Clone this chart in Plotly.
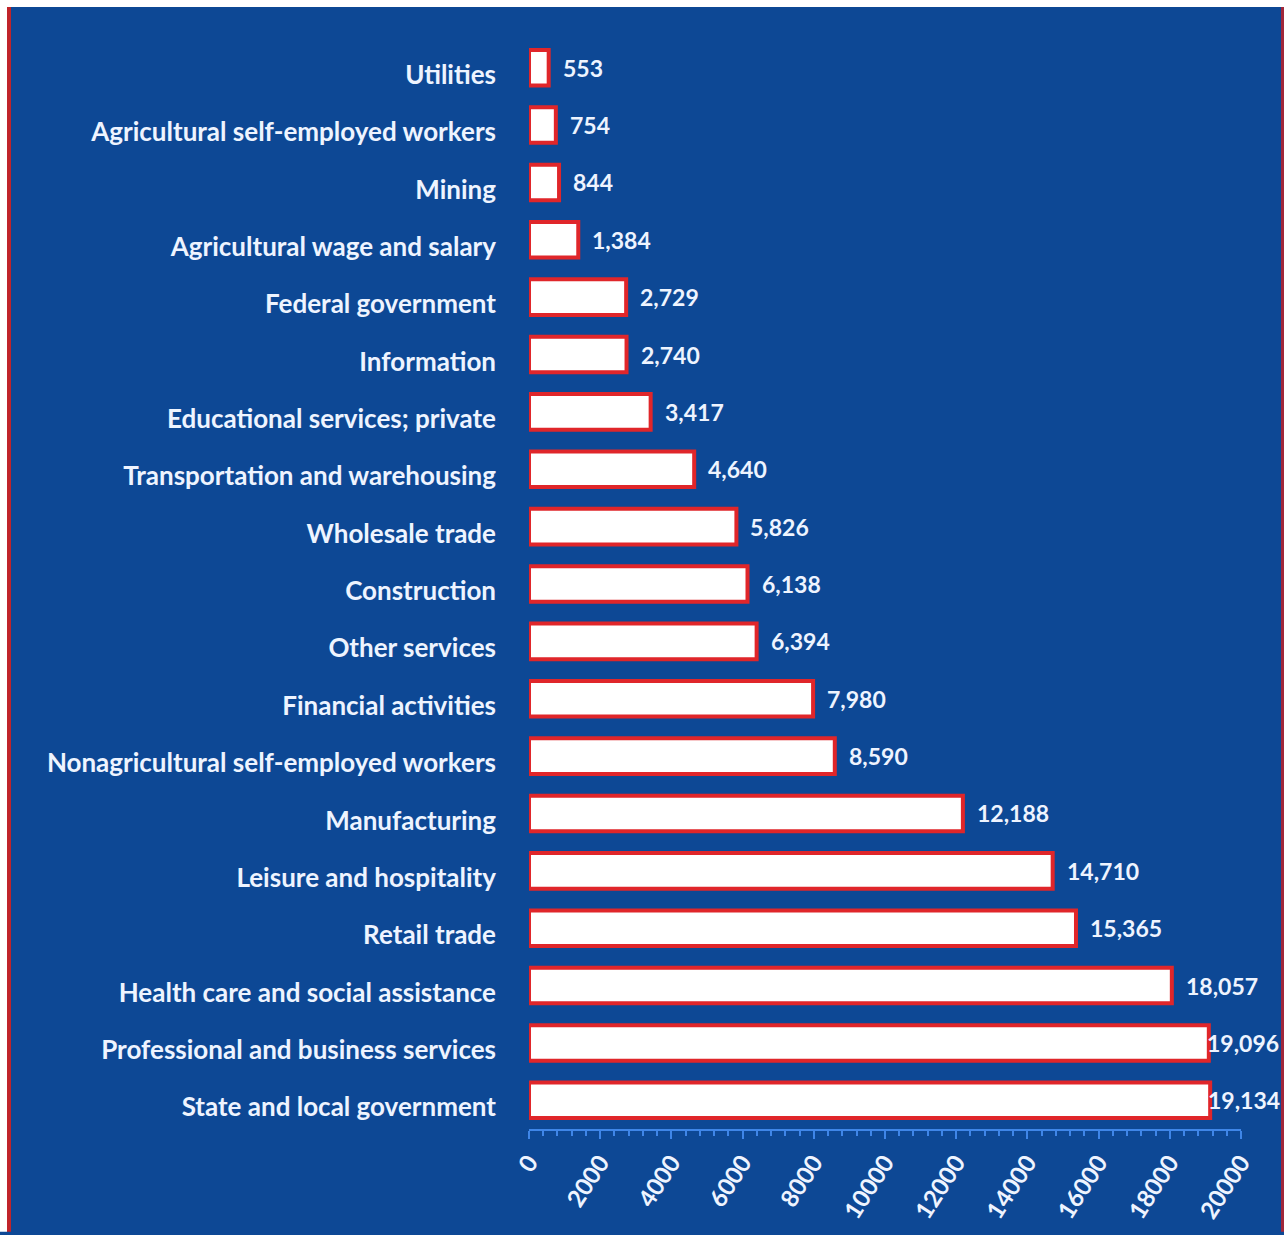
import plotly.graph_objects as go

# Employment by industry (thousands of jobs)
industries = [
    "Utilities",
    "Agricultural self-employed workers",
    "Mining",
    "Agricultural wage and salary",
    "Federal government",
    "Information",
    "Educational services; private",
    "Transportation and warehousing",
    "Wholesale trade",
    "Construction",
    "Other services",
    "Financial activities",
    "Nonagricultural self-employed workers",
    "Manufacturing",
    "Leisure and hospitality",
    "Retail trade",
    "Health care and social assistance",
    "Professional and business services",
    "State and local government",
]
jobs = [553, 754, 844, 1384, 2729, 2740, 3417, 4640, 5826, 6138, 6394,
        7980, 8590, 12188, 14710, 15365, 18057, 19096, 19134]
x_ticks = [0, 2000, 4000, 6000, 8000, 10000, 12000, 14000, 16000, 18000, 20000]

BG = "#0d4895"
TEXT = "#eef4ff"
RED = "#e0262a"
AXIS = "#3f86e8"
FONT = "Lato"

W, H = 1284, 1235
ML, MR, MT, MB = 529, 43, 39, 103
PW, PH = W - ML - MR, H - MT - MB


def px_x(p):
    return (p - ML) / PW


def px_y(p):
    return (H - MB - p) / PH


fig = go.Figure(go.Bar(
    x=jobs,
    y=industries,
    orientation="h",
    marker=dict(color="white", line=dict(color=RED, width=4)),
    hoverinfo="x+y",
))

# value labels at the end of each bar
for name, v in zip(industries, jobs):
    near_end = v > 18500
    fig.add_annotation(
        x=v, y=name, xref="x", yref="y",
        text=f"{v:,}",
        showarrow=False,
        xanchor="left",
        xshift=-4 if near_end else 12,
        font=dict(family=FONT, size=23, color=TEXT, weight="bold"),
    )

# frame: white margin strip at top/left with red edge stripes
shapes = [
    dict(type="rect", xref="paper", yref="paper",
         x0=px_x(0), x1=px_x(W), y0=px_y(0), y1=px_y(7),
         fillcolor="white", line_width=0, layer="below"),
    dict(type="rect", xref="paper", yref="paper",
         x0=px_x(0), x1=px_x(7), y0=px_y(0), y1=px_y(H),
         fillcolor="white", line_width=0, layer="below"),
    dict(type="rect", xref="paper", yref="paper",
         x0=px_x(7), x1=px_x(11), y0=px_y(7), y1=px_y(H),
         fillcolor="#c0242a", line_width=0, layer="below"),
    dict(type="rect", xref="paper", yref="paper",
         x0=px_x(1281), x1=px_x(W), y0=px_y(7), y1=px_y(H),
         fillcolor="#a0283a", line_width=0, layer="below"),
]

fig.update_layout(
    width=W, height=H,
    margin=dict(l=ML, r=MR, t=MT, b=MB),
    paper_bgcolor=BG,
    plot_bgcolor=BG,
    bargap=0.38,
    showlegend=False,
    shapes=shapes,
    font=dict(family=FONT, color=TEXT),
)

fig.update_xaxes(
    range=[0, 20000],
    tickvals=x_ticks,
    ticktext=[str(t) for t in x_ticks],
    tickangle=-57,
    tickfont=dict(family=FONT, size=24, color=TEXT, weight="bold"),
    showgrid=False,
    zeroline=False,
    showline=True,
    linecolor=AXIS,
    linewidth=2,
    ticks="outside",
    ticklen=8,
    tickwidth=1.5,
    tickcolor=AXIS,
    minor=dict(dtick=400, ticks="outside", ticklen=5, tickcolor=AXIS, tickwidth=1.5),
    fixedrange=True,
)

fig.update_yaxes(
    categoryorder="array",
    categoryarray=industries,
    autorange="reversed",
    tickfont=dict(family=FONT, size=26, color=TEXT, weight="bold"),
    showgrid=False,
    zeroline=False,
    showline=False,
    ticks="",
    ticklabelstandoff=32,
    ticklabelshift=-7,
    fixedrange=True,
)

fig.write_html("out.html")
